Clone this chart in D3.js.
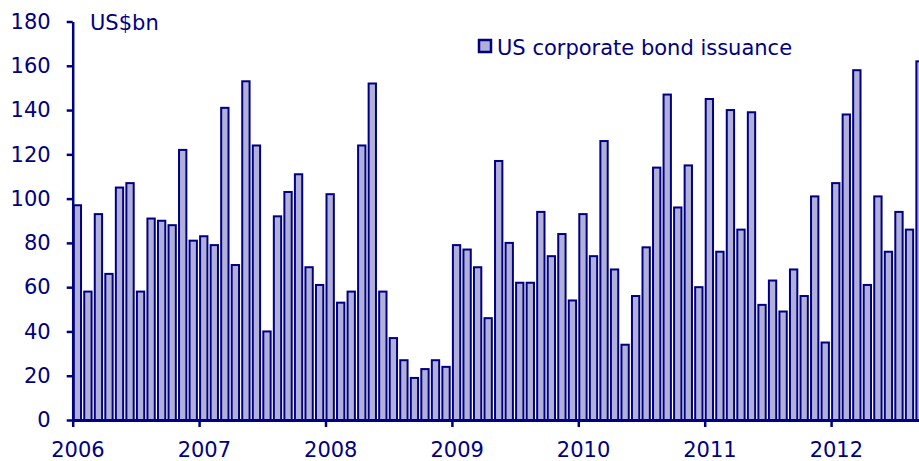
<!DOCTYPE html>
<html>
<head>
<meta charset="utf-8">
<script src="https://cdn.jsdelivr.net/npm/d3@7"></script>
<style>
  body { margin: 0; background: #fff; }
  text { font-family: "DejaVu Sans", Verdana, sans-serif; fill: #000080; }
</style>
</head>
<body>
<div id="chart"></div>
<script>
// monthly US corporate bond issuance, Jan 2006 .. Sep 2012 (US$bn)
const issuance2006 = [97, 58, 93, 66, 105, 107, 58, 91, 90, 88, 122, 81];
const issuance2007 = [83, 79, 141, 70, 153, 124, 40, 92, 103, 111, 69, 61];
const issuance2008 = [102, 53, 58, 124, 152, 58, 37, 27, 19, 23, 27, 24];
const issuance2009 = [79, 77, 69, 46, 117, 80, 62, 62, 94, 74, 84, 54];
const issuance2010 = [93, 74, 126, 68, 34, 56, 78, 114, 147, 96, 115, 60];
const issuance2011 = [145, 76, 140, 86, 139, 52, 63, 49, 68, 56, 101, 35];
const issuance2012 = [107, 138, 158, 61, 101, 76, 94, 86, 162];
const years = ["2006", "2007", "2008", "2009", "2010", "2011", "2012"];
const yTicks = [0, 20, 40, 60, 80, 100, 120, 140, 160, 180];
const seriesName = "US corporate bond issuance";
const unitLabel = "US$bn";

const values = [].concat(issuance2006, issuance2007, issuance2008, issuance2009,
  issuance2010, issuance2011, issuance2012);

const width = 919, height = 461;
const NAVY = "#000080";
const FILL = "#b0b0d8";
const FONT_SIZE = "21px";

const svg = d3.select("#chart").append("svg")
  .attr("width", width)
  .attr("height", height);

// month index -> x, 7 years visible span (chart runs off the right edge)
const x = d3.scaleLinear()
  .domain([0, 84])
  .range([72.7, 957.5]);
const y = d3.scaleLinear()
  .domain([0, 180])
  .range([420, 21.5]);

const monthW = x(1) - x(0);

// bars
svg.append("g")
  .selectAll("rect")
  .data(values)
  .enter()
  .append("rect")
  .attr("x", (d, i) => x(i) + 1)
  .attr("y", d => y(d))
  .attr("width", monthW - 3.2)
  .attr("height", d => y(0) - y(d))
  .attr("fill", FILL)
  .attr("stroke", NAVY)
  .attr("stroke-width", 2);

// y axis
const yAxis = d3.axisLeft(y)
  .tickValues(yTicks)
  .tickSize(6)
  .tickPadding(16)
  .tickSizeOuter(0);
const gy = svg.append("g")
  .attr("transform", "translate(" + x(0) + ",0)")
  .call(yAxis);
gy.select(".domain").attr("stroke", NAVY).attr("stroke-width", 2.5);
gy.selectAll(".tick line").attr("stroke", NAVY).attr("stroke-width", 2.5);
gy.selectAll(".tick text")
  .attr("font-size", FONT_SIZE)
  .attr("fill", NAVY)
  .style("font-family", '"DejaVu Sans", Verdana, sans-serif');

// x axis: a tick at the start of each year
const xAxis = d3.axisBottom(x)
  .tickValues(years.map((d, i) => i * 12))
  .tickSize(7)
  .tickFormat("")
  .tickSizeOuter(0);
const gx = svg.append("g")
  .attr("transform", "translate(0," + y(0) + ")")
  .call(xAxis);
gx.select(".domain").attr("stroke", NAVY).attr("stroke-width", 3);
gx.selectAll(".tick line").attr("stroke", NAVY).attr("stroke-width", 2.5);

// year labels sit under the January bar
svg.append("g")
  .selectAll("text")
  .data(years)
  .enter()
  .append("text")
  .attr("x", (d, i) => x(i * 12 + 0.5))
  .attr("y", 456.5)
  .attr("text-anchor", "middle")
  .attr("font-size", FONT_SIZE)
  .text(d => d);

// unit label
svg.append("text")
  .attr("x", 90)
  .attr("y", 29.5)
  .attr("font-size", FONT_SIZE)
  .text(unitLabel);

// legend
const legend = svg.append("g").attr("transform", "translate(479,40)");
legend.append("rect")
  .attr("width", 12)
  .attr("height", 12)
  .attr("fill", FILL)
  .attr("stroke", NAVY)
  .attr("stroke-width", 2.5);
legend.append("text")
  .attr("x", 18)
  .attr("y", 15)
  .attr("font-size", FONT_SIZE)
  .text(seriesName);
</script>
</body>
</html>
